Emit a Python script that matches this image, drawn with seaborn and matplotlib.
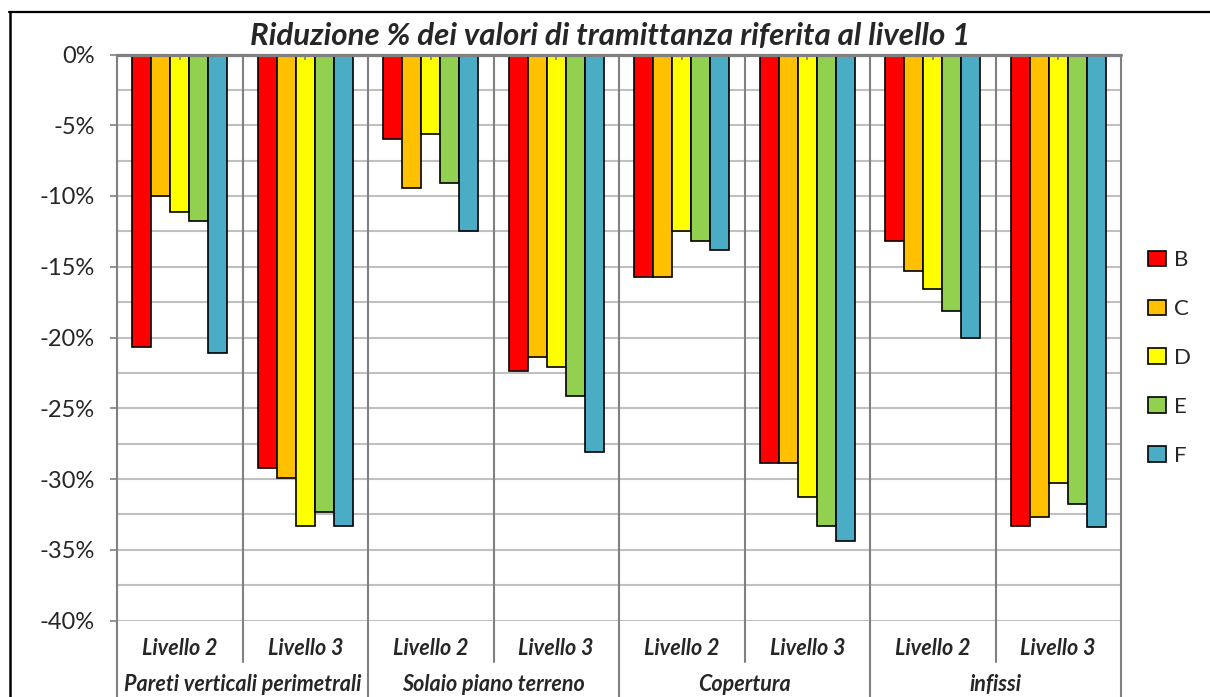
import numpy as np
import pandas as pd
import matplotlib
matplotlib.use('Agg')
import matplotlib.pyplot as plt
from matplotlib.lines import Line2D
from matplotlib.patches import Patch
import seaborn as sns

# data (percent reduction vs livello 1)
gruppi = ['Pareti verticali perimetrali', 'Solaio piano terreno', 'Copertura', 'infissi']
livelli = ['Livello 2', 'Livello 3']
serie = ['B', 'C', 'D', 'E', 'F']
colori = ['#FF0000', '#FFC000', '#FFFF00', '#92D050', '#4BACC6']

# one list per series, ordered group by group, level 2 then level 3
val_B = [-20.7, -29.2, -6.0, -22.4, -15.7, -28.9, -13.2, -33.3]
val_C = [-10.0, -29.9, -9.4, -21.4, -15.7, -28.9, -15.3, -32.7]
val_D = [-11.1, -33.3, -5.6, -22.1, -12.5, -31.3, -16.6, -30.3]
val_E = [-11.8, -32.3, -9.1, -24.1, -13.2, -33.3, -18.1, -31.8]
val_F = [-21.1, -33.3, -12.5, -28.1, -13.8, -34.4, -20.0, -33.4]

categorie = [f'{g}|{l}' for g in gruppi for l in livelli]
righe = []
for s, vals in zip(serie, [val_B, val_C, val_D, val_E, val_F]):
    for c, v in zip(categorie, vals):
        righe.append({'cat': c, 'serie': s, 'val': v})
df = pd.DataFrame(righe)

sns.set_style('white')
plt.rcParams['font.family'] = ['Lato', 'DejaVu Sans']

fig = plt.figure(figsize=(12.1, 6.97), dpi=100)
ax = fig.add_axes([117 / 1210, 1 - 620.5 / 697, (1121 - 117) / 1210, 566 / 697])

sns.barplot(data=df, x='cat', y='val', hue='serie', order=categorie, hue_order=serie,
            palette=colori, saturation=1, width=0.76, edgecolor='black',
            linewidth=1.2, ax=ax, zorder=3)

ax.set_ylim(-40, 0)
ax.set_xlim(-0.5, len(categorie) - 0.5)
ax.set_yticks(np.arange(-40, 1, 5))
ax.set_yticks(np.arange(-37.5, 0, 5), minor=True)
ax.set_yticklabels([f'{int(t)}%' for t in np.arange(-40, 1, 5)], fontsize=17)
ax.tick_params(axis='y', which='major', length=5, width=1.2, color='#808080', pad=11, left=True)
ax.tick_params(axis='y', which='minor', length=0)
ax.grid(True, axis='y', which='both', color='#C0C0C0', lw=1.5, zorder=0)
ax.set_axisbelow(True)
for sp in ax.spines.values():
    sp.set_visible(False)
ax.set_xlabel('')
ax.set_ylabel('')

# category labels (two levels)
ax.set_xticks(range(len(categorie)))
ax.set_xticklabels([c.split('|')[1] for c in categorie], fontsize=15.5,
                   fontweight='bold', fontstyle='italic')
ax.tick_params(axis='x', length=0, pad=12.5)
trans = ax.get_xaxis_transform()
y_gruppo = -(691 - 620.5) / 566
for i, g in enumerate(gruppi):
    ax.text(2 * i + 0.5, y_gruppo, g, transform=trans, ha='center', va='baseline',
            fontsize=15.5, fontweight='bold', fontstyle='italic', clip_on=False)

# category separators, running below the axis into the label table
for b in np.arange(-0.5, len(categorie), 1.0):
    bassa = -0.2 if int(b + 0.5) % 2 == 0 else -0.073
    ax.plot([b, b], [1, bassa], transform=trans, color='#808080', lw=1.5,
            clip_on=False, zorder=4)
ax.axhline(0, color='#808080', lw=2.3, clip_on=False, zorder=5)
ax.vlines(range(len(categorie)), -0.4, 0, color='#808080', lw=1.2, zorder=5)

# legend
handles = [Patch(facecolor=c, edgecolor='black', lw=1.2) for c in colori]
ax.legend(handles, serie, loc='center left', bbox_to_anchor=(1148 / 1210, 1 - 358 / 697),
          bbox_transform=fig.transFigure, frameon=False, fontsize=16,
          handlelength=0.82, handleheight=0.7, handletextpad=0.35,
          labelspacing=1.3, borderpad=0, borderaxespad=0)

fig.suptitle('Riduzione % dei valori di tramittanza riferita al livello 1',
             x=610 / 1210, y=1 - 36 / 697, va='center', fontsize=22.5,
             fontweight='bold', fontstyle='italic')

# outer frame of the chart object
fig.add_artist(Line2D([8.5 / 1210, 1], [1 - 11.7 / 697] * 2, color='black', lw=1.6))
fig.add_artist(Line2D([10 / 1210] * 2, [1 - 11.7 / 697, 0], color='black', lw=1.8))

fig.savefig('out.png', dpi=100)
